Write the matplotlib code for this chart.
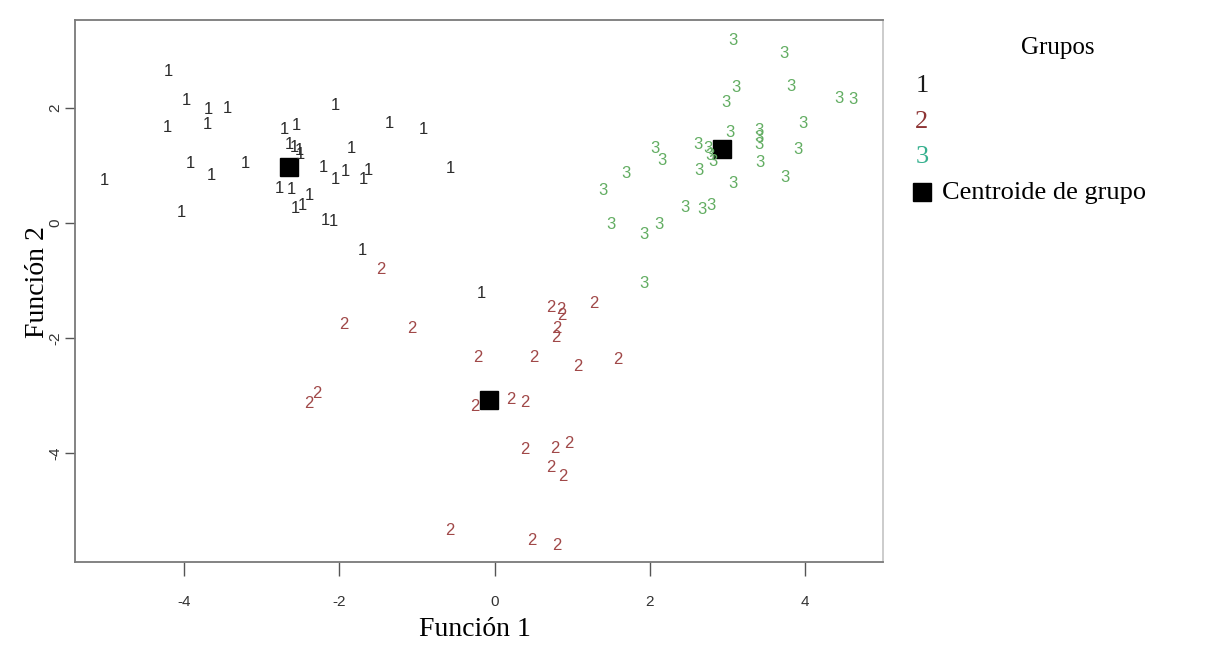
import matplotlib
matplotlib.use("Agg")
import matplotlib.pyplot as plt
from matplotlib.patches import Rectangle

# ---- data ----
g1_x = [-4.20, -3.97, -3.68, -3.44, -2.05, -4.21, -3.70, -2.71, -2.55, -1.35,
        -0.91, -2.64, -2.58, -2.51, -2.50, -1.84, -3.92, -3.21, -3.64, -5.02,
        -2.20, -2.05, -1.92, -1.69, -1.62, -0.57, -2.77, -2.62, -2.38, -2.56,
        -2.47, -4.03, -2.18, -2.08, -1.70, -0.17]
g1_y = [2.63, 2.13, 1.98, 1.99, 2.05, 1.66, 1.72, 1.62, 1.69, 1.73,
        1.63, 1.37, 1.32, 1.26, 1.20, 1.30, 1.03, 1.03, 0.82, 0.74,
        0.96, 0.76, 0.90, 0.76, 0.92, 0.95, 0.60, 0.59, 0.48, 0.26,
        0.30, 0.18, 0.05, 0.02, -0.47, -1.22]

g2_x = [-1.47, -1.94, -1.06, 0.72, 0.85, 0.86, 0.80, 0.79, 1.28, -0.22,
        0.51, 1.07, 1.59, -2.39, -2.29, -0.26, 0.21, 0.39, 0.39, 0.78,
        0.96, 0.73, 0.88, -0.57, 0.48, 0.80]
g2_y = [-0.81, -1.77, -1.84, -1.47, -1.51, -1.60, -1.83, -1.99, -1.39, -2.34,
        -2.34, -2.50, -2.37, -3.14, -2.96, -3.18, -3.07, -3.12, -3.93, -3.92,
        -3.83, -4.25, -4.40, -5.35, -5.52, -5.60]

g3_x = [3.07, 3.73, 3.11, 2.98, 3.81, 4.43, 4.61, 3.97, 3.03, 3.40,
        3.40, 3.40, 3.90, 2.62, 2.75, 2.77, 2.81, 2.06, 2.16, 2.63,
        3.41, 1.69, 1.40, 3.07, 3.74, 2.45, 2.67, 2.79, 1.50, 1.92,
        2.11, 1.92]
g3_y = [3.17, 2.94, 2.36, 2.09, 2.38, 2.17, 2.14, 1.73, 1.58, 1.61,
        1.49, 1.36, 1.28, 1.36, 1.30, 1.18, 1.07, 1.29, 1.08, 0.92,
        1.05, 0.86, 0.56, 0.69, 0.79, 0.27, 0.23, 0.31, -0.02, -0.20,
        -0.03, -1.05]

centroid_x = [-2.65, -0.07, 2.93]
centroid_y = [0.97, -3.07, 1.29]

group_labels = ["1", "2", "3"]
point_colors = ["#2b2b2b", "#a04848", "#62ad62"]
legend_colors = ["#1a1a1a", "#8e3535", "#35b08e"]
xticks = [-4, -2, 0, 2, 4]
yticks = [-4, -2, 0, 2]

narrow = ["Liberation Sans Narrow", "Liberation Sans", "DejaVu Sans"]
serif = ["Liberation Serif", "DejaVu Serif"]

W, H = 1215, 668
fig = plt.figure(figsize=(W / 100, H / 100), dpi=100)
ax = fig.add_axes([75 / W, 1 - 562 / H, (883 - 75) / W, (562 - 20) / H])
ax.set_xlim(-5.40, 5.00)
ax.set_ylim(-5.89, 3.53)

groups = [(g1_x, g1_y), (g2_x, g2_y), (g3_x, g3_y)]
for (gx, gy), lab, col in zip(groups, group_labels, point_colors):
    for x, y in zip(gx, gy):
        ax.text(x, y, lab, color=col, fontsize=12, family=narrow,
                ha="center", va="center")

ax.plot(centroid_x, centroid_y, linestyle="none", marker="s",
        markersize=13, color="black")

for side in ["left", "bottom", "top", "right"]:
    ax.spines[side].set_color("#7a7a7a")
    ax.spines[side].set_linewidth(1.3)
ax.spines["right"].set_color("#c8c8c8")

ax.set_xticks(xticks)
ax.set_yticks(yticks)
ax.set_xticklabels([str(t) for t in xticks], family=narrow, fontsize=11, color="#333333")
ax.set_yticklabels([str(t) for t in yticks], family=narrow, fontsize=11, color="#333333",
                   rotation=90, va="center")
ax.tick_params(axis="x", length=10, width=1, color="#555555", pad=14)
ax.tick_params(axis="y", length=7, width=1, color="#555555", pad=2)

fig.text(475 / W, 1 - 630 / H, "Función 1", family=serif, fontsize=20,
         ha="center", va="center")
fig.text(38 / W, 1 - 282 / H, "Función 2", family=serif, fontsize=20,
         ha="center", va="center", rotation=90)

# legend drawn as figure text
fig.text(1058 / W, 1 - 48 / H, "Grupos", family=serif, fontsize=18,
         ha="center", va="center")
for lab, col, py in zip(group_labels, legend_colors, [86, 122, 157]):
    fig.text(922 / W, 1 - py / H, lab, family=serif, fontsize=19, color=col,
             ha="center", va="center")
fig.add_artist(Rectangle(((922 - 9) / W, 1 - (192 + 9) / H), 18 / W, 18 / H,
                         transform=fig.transFigure, color="black"))
fig.text(942 / W, 1 - 193 / H, "Centroide de grupo", family=serif, fontsize=19,
         ha="left", va="center")

fig.savefig("out.png", dpi=100)
